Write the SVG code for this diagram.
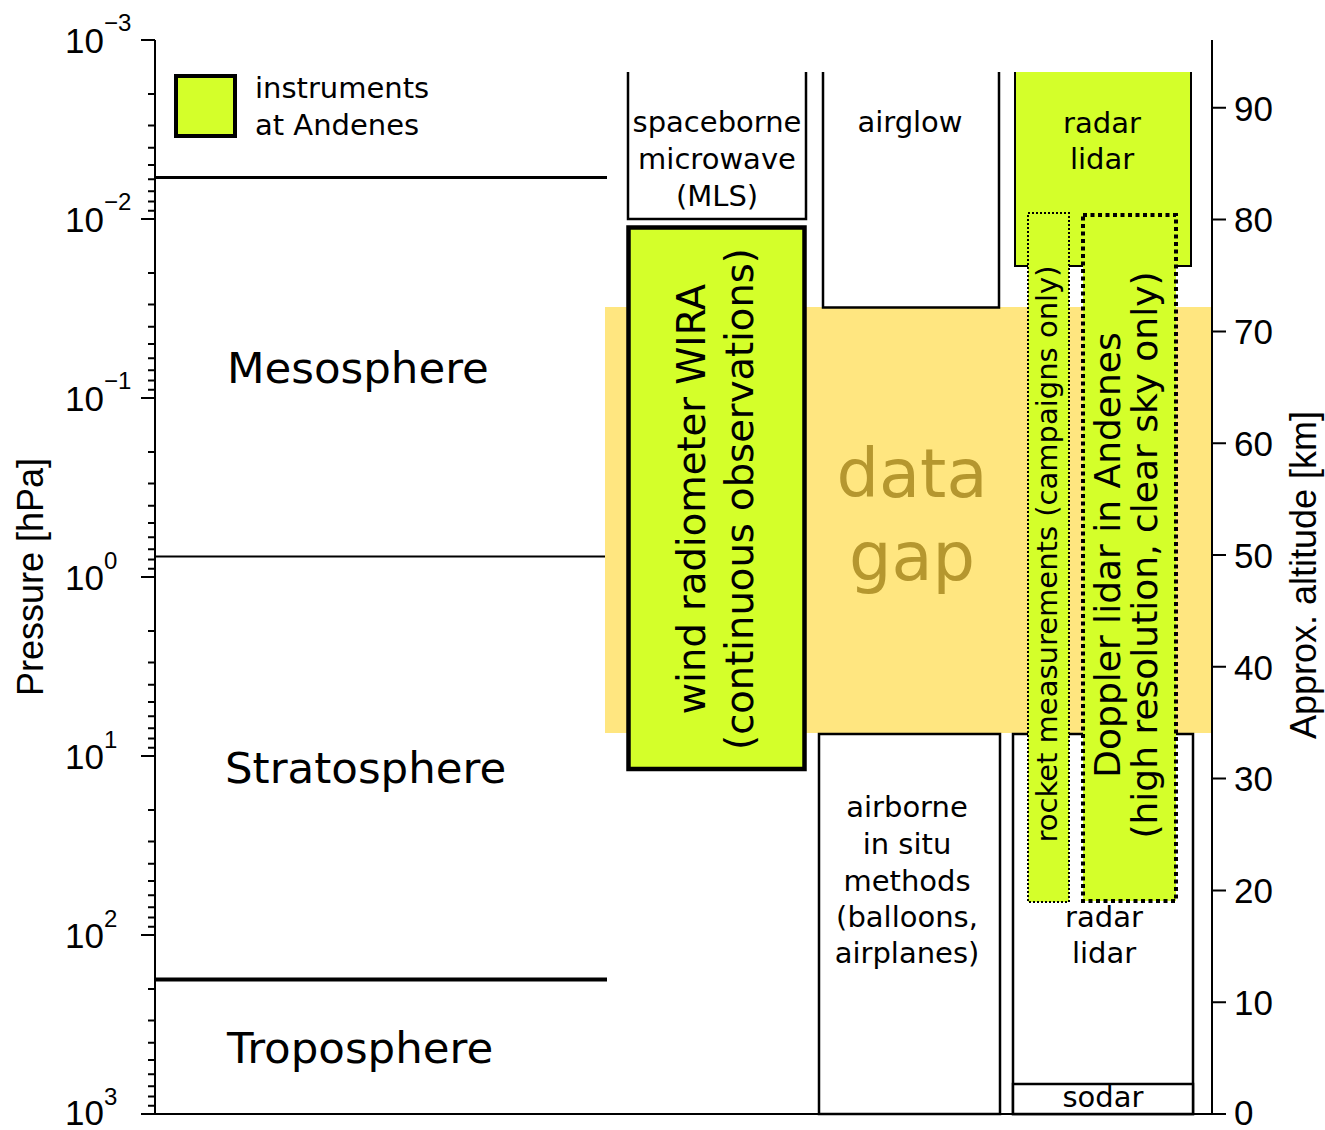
<svg xmlns="http://www.w3.org/2000/svg" width="1325" height="1130" viewBox="0 0 1325 1130">
<style>
.ax{fill:none;stroke:#000;stroke-width:2}
.lab{font-family:"DejaVu Sans",sans-serif;font-size:29px;fill:#000;text-anchor:middle}
.big{font-family:"DejaVu Sans",sans-serif;font-size:43.5px;fill:#000}
.num{font-family:"Liberation Sans",Arial,sans-serif;font-size:35px;fill:#000}
.sup{font-family:"Liberation Sans",Arial,sans-serif;font-size:24px;fill:#000}
.axt{font-family:"Liberation Sans",Arial,sans-serif;font-size:36px;fill:#000;text-anchor:middle}
.box{fill:#fff;stroke:#000;stroke-width:2.5}
.grn{fill:#d4ff2a}
</style>
<rect width="1325" height="1130" fill="#fff"/>
<g id="data-gap">
<rect x="605" y="307" width="606" height="426" fill="#ffe680"/>
<text x="912" y="497" font-family="DejaVu Sans, sans-serif" font-size="67" fill="#b5972f" text-anchor="middle">data</text>
<text x="912" y="580" font-family="DejaVu Sans, sans-serif" font-size="67" fill="#b5972f" text-anchor="middle">gap</text>
</g>
<g id="axes">
<path class="ax" d="M155,40 V1114 H1212 M1212,40 V1114"/>
<path class="ax" d="M141,40 H155 M141,219 H155 M141,398 H155 M141,577 H155 M141,756 H155 M141,935 H155 M141,1114 H155"/>
<path class="ax" stroke-width="1.5" d="M148,93.9H155M148,125.4H155M148,147.8H155M148,165.1H155M148,179.3H155M148,191.3H155M148,201.6H155M148,210.8H155
M148,272.9H155M148,304.4H155M148,326.8H155M148,344.1H155M148,358.3H155M148,370.3H155M148,380.6H155M148,389.8H155
M148,451.9H155M148,483.4H155M148,505.8H155M148,523.1H155M148,537.3H155M148,549.3H155M148,559.6H155M148,568.8H155
M148,630.9H155M148,662.4H155M148,684.8H155M148,702.1H155M148,716.3H155M148,728.3H155M148,738.6H155M148,747.8H155
M148,809.9H155M148,841.4H155M148,863.8H155M148,881.1H155M148,895.3H155M148,907.3H155M148,917.6H155M148,926.8H155
M148,988.9H155M148,1020.4H155M148,1042.8H155M148,1060.1H155M148,1074.3H155M148,1086.3H155M148,1096.6H155M148,1105.8H155"/>
<path class="ax" d="M1212,1114H1226M1212,1002.2H1226M1212,890.4H1226M1212,778.6H1226M1212,666.8H1226M1212,555H1226M1212,443.2H1226M1212,331.4H1226M1212,219.6H1226M1212,107.8H1226"/>
<text class="num" x="65" y="53">10</text><text class="sup" x="104" y="31">−3</text>
<text class="num" x="65" y="232">10</text><text class="sup" x="104" y="210">−2</text>
<text class="num" x="65" y="411">10</text><text class="sup" x="104" y="389">−1</text>
<text class="num" x="65" y="590">10</text><text class="sup" x="104" y="569">0</text>
<text class="num" x="65" y="769">10</text><text class="sup" x="104" y="748">1</text>
<text class="num" x="65" y="948">10</text><text class="sup" x="104" y="927">2</text>
<text class="num" x="65" y="1125">10</text><text class="sup" x="104" y="1105">3</text>
<text class="num" x="1234" y="1125">0</text>
<text class="num" x="1234" y="1015">10</text>
<text class="num" x="1234" y="903">20</text>
<text class="num" x="1234" y="791">30</text>
<text class="num" x="1234" y="680">40</text>
<text class="num" x="1234" y="568">50</text>
<text class="num" x="1234" y="456">60</text>
<text class="num" x="1234" y="344">70</text>
<text class="num" x="1234" y="232">80</text>
<text class="num" x="1234" y="121">90</text>
<text class="axt" transform="translate(43,577) rotate(-90)">Pressure [hPa]</text>
<text class="axt" transform="translate(1316,575) rotate(-90)">Approx. altitude [km]</text>
</g>
<g id="layers">
<path d="M155,177.5H607" stroke="#000" stroke-width="3"/>
<path d="M155,556.5H605" stroke="#000" stroke-width="2"/>
<path d="M155,979.5H607" stroke="#000" stroke-width="4"/>
<text class="big" x="227" y="383">Mesosphere</text>
<text class="big" x="225" y="783">Stratosphere</text>
<text class="big" x="227" y="1063">Troposphere</text>
</g>
<g id="legend">
<rect x="176" y="76" width="59" height="60" class="grn" stroke="#000" stroke-width="4"/>
<text x="255" y="98" font-family="DejaVu Sans, sans-serif" font-size="29">instruments</text>
<text x="255" y="135" font-family="DejaVu Sans, sans-serif" font-size="29">at Andenes</text>
</g>
<g id="spaceborne">
<path d="M628,72V219H806V72" class="box" stroke-width="2"/>
<text class="lab" x="717" y="132">spaceborne</text>
<text class="lab" x="717" y="169">microwave</text>
<text class="lab" x="717" y="206">(MLS)</text>
</g>
<g id="wira">
<rect x="628.5" y="227.5" width="176" height="541.5" class="grn" stroke="#000" stroke-width="4.5"/>
<text class="lab" style="font-size:38.5px" transform="translate(705,499) rotate(-90)">wind radiometer WIRA</text>
<text class="lab" style="font-size:38.5px" transform="translate(753,499) rotate(-90)">(continuous observations)</text>
</g>
<g id="airglow">
<path d="M823,72V307.5H999V72" class="box" stroke-width="2"/>
<text class="lab" x="910" y="132">airglow</text>
</g>
<g id="airborne">
<rect x="819" y="734" width="181" height="380" class="box"/>
<text class="lab" x="907" y="817">airborne</text>
<text class="lab" x="907" y="854">in situ</text>
<text class="lab" x="907" y="891">methods</text>
<text class="lab" x="907" y="927">(balloons,</text>
<text class="lab" x="907" y="963">airplanes)</text>
</g>
<g id="radar-lidar-upper">
<rect x="1015" y="72" width="176" height="194" class="grn"/>
<path d="M1015,72V266H1191V72" fill="none" stroke="#000" stroke-width="2"/>
<text class="lab" x="1102" y="133">radar</text>
<text class="lab" x="1102" y="169">lidar</text>
</g>
<g id="radar-lidar-lower">
<rect x="1013" y="734" width="180" height="380" class="box"/>
<text class="lab" x="1104" y="927">radar</text>
<text class="lab" x="1104" y="963">lidar</text>
</g>
<g id="sodar">
<rect x="1013" y="1084" width="180" height="30" class="box"/>
<text class="lab" x="1103" y="1107">sodar</text>
</g>
<g id="rocket">
<rect x="1028" y="213" width="41" height="689" class="grn" stroke="#000" stroke-width="2" stroke-dasharray="2,2"/>
<text class="lab" transform="translate(1057,554) rotate(-90)">rocket measurements (campaigns only)</text>
</g>
<g id="doppler">
<rect x="1083" y="215" width="93" height="686" class="grn" stroke="#000" stroke-width="4" stroke-dasharray="4,3.5"/>
<text class="lab" style="font-size:36px" transform="translate(1120,555) rotate(-90)">Doppler lidar in Andenes</text>
<text class="lab" style="font-size:36px" transform="translate(1157,555) rotate(-90)">(high resolution, clear sky only)</text>
</g>
<g id="connectors"/>
</svg>
